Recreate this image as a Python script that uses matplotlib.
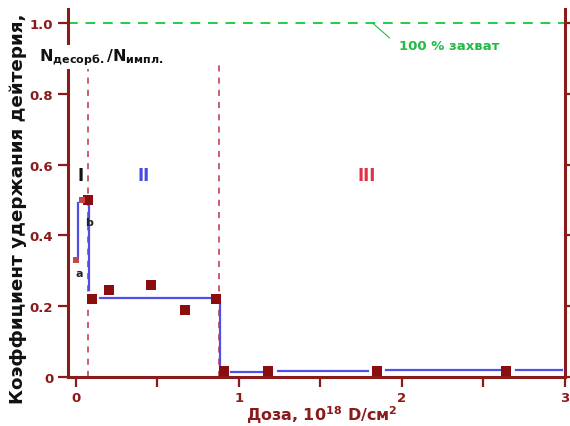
import matplotlib.pyplot as plt

# measured retention coefficient vs dose
dose = [0.075, 0.10, 0.20, 0.46, 0.67, 0.86, 0.91, 1.18, 1.85, 2.64]
retention = [0.50, 0.22, 0.245, 0.26, 0.19, 0.22, 0.017, 0.017, 0.017, 0.017]

# small points "a" and "b"
ab_dose = [0.0, 0.04]
ab_retention = [0.33, 0.50]
ab_labels = ["a", "b"]

# blue step guide, drawn as separate segments
guide_x = [[0.015, 0.015], [0.08, 0.08], [0.15, 0.83], [0.885, 0.885],
           [0.95, 1.15], [1.24, 1.79], [1.90, 2.60], [2.70, 2.98]]
guide_y = [[0.34, 0.49], [0.49, 0.245], [0.222, 0.222], [0.21, 0.025],
           [0.013, 0.013], [0.016, 0.016], [0.019, 0.019], [0.019, 0.019]]

# stage boundaries and labels
boundaries = [0.075, 0.875]
stages = ["I", "II", "III"]
stage_x = [0.01, 0.38, 1.73]
stage_colors = ["#111111", "#4a4ae0", "#e0304a"]

DARK_RED = "#8b1a1a"

fig = plt.figure(figsize=(5.7, 4.27), dpi=100)
ax = fig.add_axes([0.119, 0.115, 0.872, 0.862])

for gx, gy in zip(guide_x, guide_y):
    ax.plot(gx, gy, color="#5050e8", lw=1.6, zorder=2)

ax.vlines(boundaries, 0, 0.88, colors="#c0304a", linestyles=(0, (4, 4)), lw=1.1, zorder=1)
ax.axhline(1.0, color="#22cc44", ls=(0, (5, 4)), lw=1.4, zorder=1)
ax.annotate("100 % захват", xy=(1.82, 1.0), xytext=(1.98, 0.935),
            color="#22bb44", fontsize=9.5, fontweight="bold", va="center",
            arrowprops=dict(arrowstyle="-", color="#22bb44", lw=0.8,
                            shrinkA=6, shrinkB=0, relpos=(0, 0.5)))

ax.scatter(dose, retention, marker="s", s=42, color="#8b0d0d", zorder=3, linewidths=0)
ax.scatter(ab_dose, ab_retention, marker="s", s=18, color="#c04848", zorder=3, linewidths=0)
for x, y, lab in zip(ab_dose, ab_retention, ab_labels):
    ax.text(x - 0.005 + (0.02 if lab == "b" else 0), y - 0.045 - (0.025 if lab == "b" else 0),
            lab, fontsize=8, fontweight="bold", color="#222222", ha="left")

for name, x, c in zip(stages, stage_x, stage_colors):
    ax.text(x, 0.57, name, color=c, fontsize=12, fontweight="bold", ha="left", va="center")

ax.set_xlim(-0.05, 3.0)
ax.set_ylim(0, 1.04)
ax.set_xticks([0, 1, 2, 3])
ax.set_xticks([0.5, 1.5, 2.5], minor=True)
ax.set_yticks([0, 0.2, 0.4, 0.6, 0.8, 1.0])
ax.set_yticklabels(["0", "0.2", "0.4", "0.6", "0.8", "1.0"])

for side in ["left", "right", "bottom"]:
    ax.spines[side].set_color(DARK_RED)
    ax.spines[side].set_linewidth(2.2)
ax.spines["top"].set_visible(False)
ax.tick_params(axis="both", which="both", colors=DARK_RED, width=1.6, direction="out",
               labelsize=9.5, right=True)
ax.tick_params(axis="both", which="major", length=7)
ax.tick_params(axis="x", which="minor", length=7)
for lab in ax.get_xticklabels() + ax.get_yticklabels():
    lab.set_fontweight("bold")

ax.set_xlabel("Доза, 10$^{\\mathbf{18}}$ D/см$^{\\mathbf{2}}$", color=DARK_RED,
              fontsize=11.5, fontweight="bold")
ax.xaxis.set_label_coords(0.51, -0.1, transform=ax.transAxes)
ax.xaxis.label.set_va("center")
fig.text(0.032, 0.51, "Коэффициент удержания дейтерия,", rotation=90, fontsize=13.2,
         fontweight="bold", ha="center", va="center", color="#111111")
fig.text(0.068, 0.864, "N$_{\\mathbf{десорб.}}$/N$_{\\mathbf{импл.}}$", fontsize=11.5,
         fontweight="bold", color="#111111", va="center",
         bbox=dict(facecolor="white", edgecolor="none", pad=1))

fig.savefig("out.png", dpi=100)
